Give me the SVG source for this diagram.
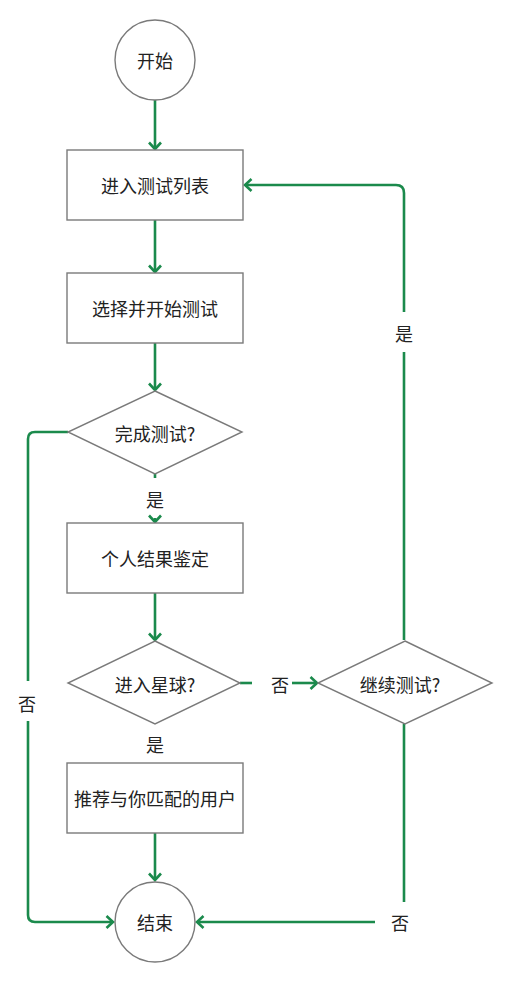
<svg xmlns="http://www.w3.org/2000/svg" width="506" height="984" viewBox="0 0 506 984">
<defs>
<style>
.n{fill:#fff;stroke:#7a7a7a;stroke-width:1.4}
.t{font-family:"Noto Sans CJK SC","Noto Sans",sans-serif;font-size:18px;fill:#222;text-anchor:middle;dominant-baseline:central}
.c{fill:none;stroke:#1b8a4c;stroke-width:2.6;stroke-linejoin:round}
</style>
<marker id="ah" markerUnits="userSpaceOnUse" markerWidth="14" markerHeight="16" refX="8" refY="7" orient="auto" viewBox="0 0 14 16">
<path d="M1.5,1 L8,7 L1.5,13" fill="none" stroke="#1b8a4c" stroke-width="2.6" stroke-linejoin="miter"/>
</marker>
</defs>
<rect width="506" height="984" fill="#fff"/>
<g id="connectors">
<path class="c" d="M155,100 V149" marker-end="url(#ah)"/>
<path class="c" d="M155,220 V272" marker-end="url(#ah)"/>
<path class="c" d="M155,343 V390" marker-end="url(#ah)"/>
<path class="c" d="M155,474 V478"/>
<path class="c" d="M155,518 V522" marker-end="url(#ah)"/>
<path class="c" d="M155,593 V640" marker-end="url(#ah)"/>
<path class="c" d="M240,683 H252"/>
<path class="c" d="M292,683 H317" marker-end="url(#ah)"/>
<path class="c" d="M404,640 V352"/>
<path class="c" d="M404,312 V193 Q404,185 396,185 H245" marker-end="url(#ah)"/>
<path class="c" d="M404,724 V902"/>
<path class="c" d="M375,922 H197" marker-end="url(#ah)"/>
<path class="c" d="M68,432 H35 Q28,432 28,439 V681"/>
<path class="c" d="M28,721 V915 Q28,922 35,922 H113" marker-end="url(#ah)"/>
<path class="c" d="M155,833 V880" marker-end="url(#ah)"/>
</g>
<g id="start"><circle class="n" cx="155" cy="60" r="40"/><text class="t" x="155" y="60">开始</text></g>
<g id="list"><rect class="n" x="67" y="150" width="176" height="70"/><text class="t" x="155" y="185">进入测试列表</text></g>
<g id="select"><rect class="n" x="67" y="273" width="176" height="70"/><text class="t" x="155" y="308">选择并开始测试</text></g>
<g id="done"><polygon class="n" points="155,391 242,432 155,474 68,432"/><text class="t" x="155" y="433">完成测试?</text></g>
<g id="result"><rect class="n" x="67" y="523" width="176" height="70"/><text class="t" x="155" y="558">个人结果鉴定</text></g>
<g id="planet"><polygon class="n" points="155,641 240,683 155,724 68,683"/><text class="t" x="155" y="684">进入星球?</text></g>
<g id="recommend"><rect class="n" x="67" y="763" width="176" height="70"/><text class="t" x="155" y="798">推荐与你匹配的用户</text></g>
<g id="end"><circle class="n" cx="155" cy="922" r="40"/><text class="t" x="155" y="922">结束</text></g>
<g id="continue"><polygon class="n" points="405,641 492,683 405,724 318,683"/><text class="t" x="400" y="684">继续测试?</text></g>
<g id="labels">
<text class="t" x="155" y="499">是</text>
<text class="t" x="155" y="744">是</text>
<text class="t" x="280" y="684">否</text>
<text class="t" x="404" y="333">是</text>
<text class="t" x="400" y="922">否</text>
<text class="t" x="27" y="703">否</text>
</g>
</svg>
